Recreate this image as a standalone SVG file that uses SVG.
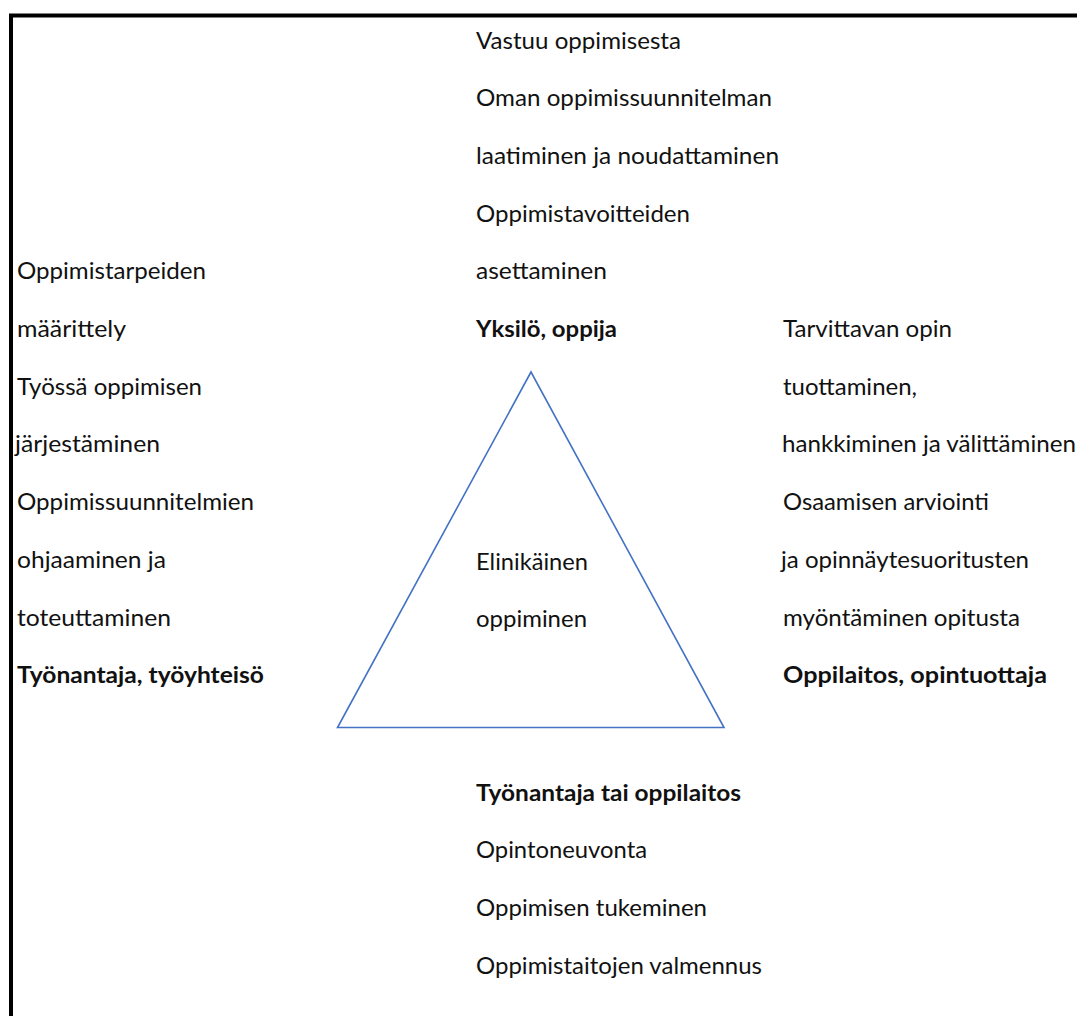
<svg xmlns="http://www.w3.org/2000/svg" width="1077" height="1016" viewBox="0 0 1077 1016">
  <style>
    text { font-family: Lato, "Open Sans", "Liberation Sans", sans-serif; font-size: 23px; fill: #111; }
    .b { font-weight: bold; }
    .frame { fill: none; stroke: #000; stroke-width: 4; stroke-linejoin: miter; }
    .tri { fill: none; stroke: #4472C4; stroke-width: 1.6; stroke-linejoin: miter; }
  </style>
  <rect x="0" y="0" width="1077" height="1016" fill="#fff"/>
  <path class="frame" d="M11,1030 V15.5 H1090"/>

  <g id="triangle">
    <polygon class="tri" points="531,372 337.5,727.5 724,727.5"/>
  </g>

  <g id="center">
    <text x="476" y="569.5" textLength="112" lengthAdjust="spacingAndGlyphs">Elinikäinen</text>
    <text x="476" y="627" textLength="111" lengthAdjust="spacingAndGlyphs">oppiminen</text>
  </g>

  <g id="top-yksilo">
    <text x="476" y="48.5" textLength="205" lengthAdjust="spacingAndGlyphs">Vastuu oppimisesta</text>
    <text x="476" y="106.2" textLength="296" lengthAdjust="spacingAndGlyphs">Oman oppimissuunnitelman</text>
    <text x="476" y="163.9" textLength="303" lengthAdjust="spacingAndGlyphs">laatiminen ja noudattaminen</text>
    <text x="476" y="221.6" textLength="214" lengthAdjust="spacingAndGlyphs">Oppimistavoitteiden</text>
    <text x="476" y="279.3" textLength="131" lengthAdjust="spacingAndGlyphs">asettaminen</text>
    <text class="b" x="476" y="337" textLength="141" lengthAdjust="spacingAndGlyphs">Yksilö, oppija</text>
  </g>

  <g id="left-tyonantaja">
    <text x="17" y="279.3" textLength="189" lengthAdjust="spacingAndGlyphs">Oppimistarpeiden</text>
    <text x="17" y="337" textLength="109" lengthAdjust="spacingAndGlyphs">määrittely</text>
    <text x="17" y="394.7" textLength="185" lengthAdjust="spacingAndGlyphs">Työssä oppimisen</text>
    <text x="15" y="452.4" textLength="145" lengthAdjust="spacingAndGlyphs">järjestäminen</text>
    <text x="17" y="510.1" textLength="237" lengthAdjust="spacingAndGlyphs">Oppimissuunnitelmien</text>
    <text x="17" y="567.8" textLength="149" lengthAdjust="spacingAndGlyphs">ohjaaminen ja</text>
    <text x="17" y="625.5" textLength="154" lengthAdjust="spacingAndGlyphs">toteuttaminen</text>
    <text class="b" x="17" y="683.2" textLength="247" lengthAdjust="spacingAndGlyphs">Työnantaja, työyhteisö</text>
  </g>

  <g id="right-oppilaitos">
    <text x="783" y="337" textLength="169" lengthAdjust="spacingAndGlyphs">Tarvittavan opin</text>
    <text x="783" y="394.7" textLength="134" lengthAdjust="spacingAndGlyphs">tuottaminen,</text>
    <text x="782" y="452.4" textLength="294" lengthAdjust="spacingAndGlyphs">hankkiminen ja välittäminen</text>
    <text x="783" y="510.1" textLength="206" lengthAdjust="spacingAndGlyphs">Osaamisen arviointi</text>
    <text x="781" y="567.8" textLength="248" lengthAdjust="spacingAndGlyphs">ja opinnäytesuoritusten</text>
    <text x="783" y="625.5" textLength="237" lengthAdjust="spacingAndGlyphs">myöntäminen opitusta</text>
    <text class="b" x="783" y="683.2" textLength="264" lengthAdjust="spacingAndGlyphs">Oppilaitos, opintuottaja</text>
  </g>

  <g id="bottom-tyonantaja-tai-oppilaitos">
    <text class="b" x="476" y="800.7" textLength="265" lengthAdjust="spacingAndGlyphs">Työnantaja tai oppilaitos</text>
    <text x="476" y="858.4" textLength="171" lengthAdjust="spacingAndGlyphs">Opintoneuvonta</text>
    <text x="476" y="916.1" textLength="231" lengthAdjust="spacingAndGlyphs">Oppimisen tukeminen</text>
    <text x="476" y="973.8" textLength="286" lengthAdjust="spacingAndGlyphs">Oppimistaitojen valmennus</text>
  </g>
</svg>
